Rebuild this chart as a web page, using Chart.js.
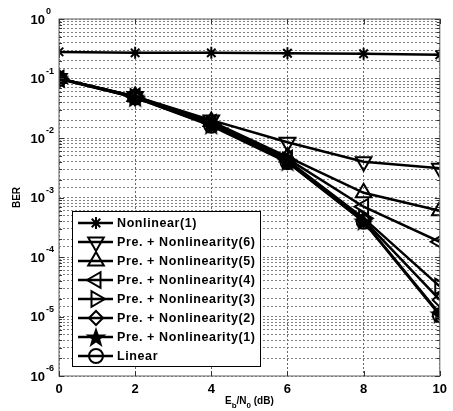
<!DOCTYPE html>
<html>
<head>
<meta charset="utf-8">
<script src="https://cdn.jsdelivr.net/npm/chart.js@4.4.1/dist/chart.umd.min.js"></script>
<style>
html,body{margin:0;padding:0;background:#fff;}
canvas{display:block;}
</style>
</head>
<body>
<canvas id="c" width="453" height="411"></canvas>
<script>
// ---- data ----
const ebn0 = [0, 2, 4, 6, 8, 10];
const nonlinear1 = [0.28, 0.27, 0.27, 0.265, 0.26, 0.25];
const preNl6 = [0.1, 0.05, 0.02, 0.0085, 0.004, 0.0031];
const preNl5 = [0.1, 0.05, 0.019, 0.0048, 0.0012, 0.0006];
const preNl4 = [0.1, 0.05, 0.018, 0.0045, 0.0007, 0.00018];
const preNl3 = [0.1, 0.049, 0.017, 0.0042, 0.00045, 0.000032];
const preNl2 = [0.1, 0.049, 0.017, 0.0041, 0.00042, 0.000019];
const preNl1 = [0.1, 0.048, 0.0165, 0.004, 0.0004, 0.000011];
const linear = [0.098, 0.048, 0.016, 0.0039, 0.00039, 0.0000105];
const seriesNames = ['Nonlinear(1)', 'Pre. + Nonlinearity(6)', 'Pre. + Nonlinearity(5)',
  'Pre. + Nonlinearity(4)', 'Pre. + Nonlinearity(3)', 'Pre. + Nonlinearity(2)',
  'Pre. + Nonlinearity(1)', 'Linear'];
const yDecades = [-6, -5, -4, -3, -2, -1, 0];
const xTicks = [0, 2, 4, 6, 8, 10];

function pentagram(r) {
  const c = document.createElement('canvas');
  const s = Math.ceil(2 * r + 4);
  c.width = c.height = s;
  const g = c.getContext('2d');
  g.translate(s / 2, s / 2 + 1);
  g.beginPath();
  for (let i = 0; i < 10; i++) {
    const rr = i % 2 ? r * 0.40 : r;
    const a = -Math.PI / 2 + i * Math.PI / 5;
    g.lineTo(rr * Math.cos(a), rr * Math.sin(a));
  }
  g.closePath();
  g.fillStyle = '#000';
  g.fill();
  return c;
}
const starImg = pentagram(11);

const styles = [
  {pointStyle: 'star', rotation: 0, radius: 6},
  {pointStyle: 'triangle', rotation: 180, radius: 9},
  {pointStyle: 'triangle', rotation: 0, radius: 9},
  {pointStyle: 'triangle', rotation: 270, radius: 9},
  {pointStyle: 'triangle', rotation: 90, radius: 9},
  {pointStyle: 'rectRot', rotation: 0, radius: 7},
  {pointStyle: starImg, rotation: 0, radius: 11},
  {pointStyle: 'circle', rotation: 0, radius: 7}
];
const allSeries = [nonlinear1, preNl6, preNl5, preNl4, preNl3, preNl2, preNl1, linear];

const datasets = allSeries.map((arr, k) => ({
  label: seriesNames[k],
  data: ebn0.map((x, i) => ({x: x, y: arr[i]})),
  borderColor: '#000',
  backgroundColor: 'rgba(0,0,0,0)',
  borderWidth: 2.5,
  pointStyle: styles[k].pointStyle,
  pointRotation: styles[k].rotation,
  pointRadius: styles[k].radius,
  pointBorderWidth: 2,
  pointBorderColor: '#000',
  pointBackgroundColor: 'rgba(0,0,0,0)',
  tension: 0
}));

const FONT = '"Liberation Sans", Arial, sans-serif';

const decor = {
  id: 'decor',
  afterDraw(chart) {
    const ctx = chart.ctx;
    const a = chart.chartArea;
    const ys = chart.scales.y, xs = chart.scales.x;
    ctx.save();
    ctx.setLineDash([]);
    // box
    ctx.strokeStyle = '#7a7a7a';
    ctx.lineWidth = 1.2;
    ctx.strokeRect(a.left, a.top, a.right - a.left, a.bottom - a.top);
    // inward ticks
    ctx.strokeStyle = '#333';
    ctx.lineWidth = 1;
    ctx.beginPath();
    xTicks.forEach(v => {
      const px = Math.round(xs.getPixelForValue(v)) + 0.5;
      ctx.moveTo(px, a.bottom); ctx.lineTo(px, a.bottom - 5);
      ctx.moveTo(px, a.top); ctx.lineTo(px, a.top + 5);
    });
    yDecades.forEach(e => {
      for (let m = 1; m <= 9; m++) {
        const v = m * Math.pow(10, e);
        if (e === 0 && m > 1) break;
        const py = Math.round(ys.getPixelForValue(v)) + 0.5;
        const len = m === 1 ? 5 : 3;
        ctx.moveTo(a.left, py); ctx.lineTo(a.left + len, py);
        ctx.moveTo(a.right, py); ctx.lineTo(a.right - len, py);
      }
    });
    ctx.stroke();
    // y tick labels with superscript
    ctx.fillStyle = '#000';
    yDecades.forEach(e => {
      const py = ys.getPixelForValue(Math.pow(10, e));
      ctx.font = 'bold 13px ' + FONT;
      ctx.textAlign = 'right';
      ctx.textBaseline = 'middle';
      ctx.fillText('10', 45, py + 1);
      ctx.font = 'bold 9px ' + FONT;
      ctx.textAlign = 'left';
      ctx.fillText(String(e), 46, py - 7);
    });
    // y title
    ctx.save();
    ctx.translate(17, (a.top + a.bottom) / 2);
    ctx.rotate(-Math.PI / 2);
    ctx.font = 'bold 10px ' + FONT;
    ctx.textAlign = 'center';
    ctx.textBaseline = 'middle';
    ctx.fillText('BER', 0, 0);
    ctx.restore();
    // x title with subscripts
    const parts = [['E', 0], ['b', 1], ['/N', 0], ['0', 1], [' (dB)', 0]];
    const big = 'bold 10px ' + FONT, small = 'bold 8px ' + FONT;
    let w = 0;
    parts.forEach(p => { ctx.font = p[1] ? small : big; w += ctx.measureText(p[0]).width; });
    let tx = (a.left + a.right) / 2 - w / 2;
    const base = 404;
    ctx.textAlign = 'left';
    ctx.textBaseline = 'alphabetic';
    parts.forEach(p => {
      ctx.font = p[1] ? small : big;
      ctx.fillText(p[0], tx, p[1] ? base + 4 : base);
      tx += ctx.measureText(p[0]).width;
    });
    // legend
    const lx = 72, ly = 211, lw = 188, lh = 155;
    ctx.fillStyle = '#fff';
    ctx.fillRect(lx, ly, lw, lh);
    ctx.strokeStyle = '#000';
    ctx.lineWidth = 1;
    ctx.strokeRect(lx + 0.5, ly + 0.5, lw, lh);
    const rowH = 19, y0 = 223;
    seriesNames.forEach((name, k) => {
      const ry = y0 + k * rowH;
      ctx.strokeStyle = '#000';
      ctx.lineWidth = 2.5;
      ctx.beginPath();
      ctx.moveTo(78, ry); ctx.lineTo(113, ry);
      ctx.stroke();
      ctx.lineWidth = 2;
      ctx.fillStyle = 'rgba(0,0,0,0)';
      if (Chart.helpers && Chart.helpers.drawPoint) {
        Chart.helpers.drawPoint(ctx, {
          pointStyle: styles[k].pointStyle,
          rotation: styles[k].rotation,
          radius: styles[k].radius,
          borderWidth: 2
        }, 96, ry);
      }
      ctx.fillStyle = '#000';
      ctx.font = 'bold 12.5px ' + FONT;
      ctx.letterSpacing = '0.6px';
      ctx.textAlign = 'left';
      ctx.textBaseline = 'middle';
      ctx.fillText(name, 117, ry + 1);
      ctx.letterSpacing = '0px';
    });
    ctx.restore();
  }
};

new Chart(document.getElementById('c'), {
  type: 'line',
  data: {datasets: datasets},
  options: {
    responsive: false,
    animation: false,
    devicePixelRatio: 1,
    layout: {padding: {top: 19, right: 10, left: 0, bottom: 0}},
    plugins: {legend: {display: false}, tooltip: {enabled: false}},
    scales: {
      x: {
        type: 'linear', min: 0, max: 10,
        afterFit: s => { s.height = 35; },
        afterBuildTicks: s => { s.ticks = xTicks.map(v => ({value: v})); },
        border: {display: false, dash: [2, 2]},
        grid: {color: '#666', lineWidth: 1, drawTicks: false},
        ticks: {color: '#000', font: {family: FONT, size: 13, weight: 'bold'}, padding: 6, maxRotation: 0}
      },
      y: {
        type: 'logarithmic', min: 1e-6, max: 1,
        afterFit: s => { s.width = 59; },
        border: {display: false, dash: [2, 2]},
        grid: {color: '#808080', lineWidth: 1, drawTicks: false},
        ticks: {display: false}
      }
    }
  },
  plugins: [decor]
});
</script>
</body>
</html>
